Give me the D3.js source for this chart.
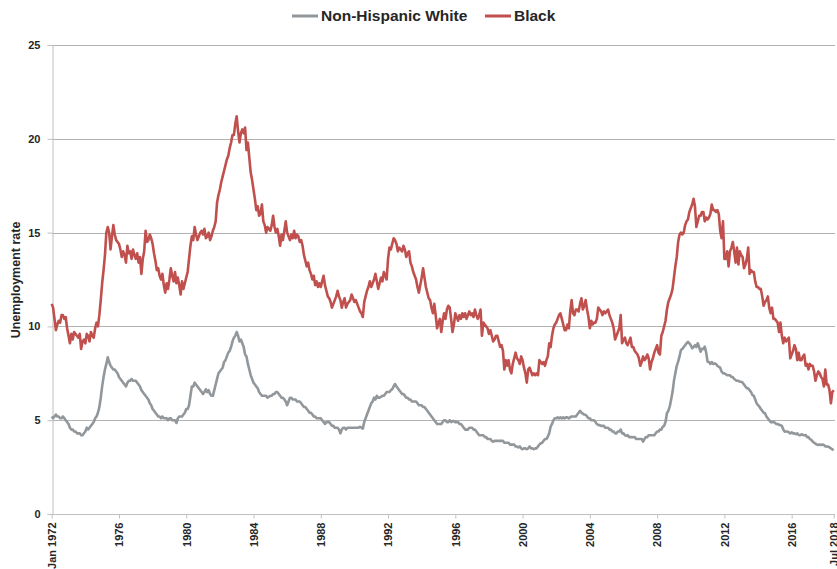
<!DOCTYPE html>
<html>
<head>
<meta charset="utf-8">
<script src="https://cdn.jsdelivr.net/npm/d3@7"></script>
<style>
  body { margin: 0; background: #fff; }
  svg { display: block; font-family: "Liberation Sans", Arial, sans-serif; }
</style>
</head>
<body>
<div id="chart"></div>
<script>
// monthly series, Jan 1972 .. Jul 2018
var startYear = 1972;

var black = [
  11.2, 11.0, 10.4, 9.8, 10.1, 10.3, 10.2, 10.6, 10.6, 10.4, 10.5, 9.9,   // 1972
  9.5, 9.1, 9.6, 9.3, 9.7, 9.6, 9.5, 9.4, 9.6, 8.8, 9.2, 9.3,             // 1973
  9.1, 9.6, 9.5, 9.2, 9.7, 9.5, 9.4, 9.9, 10.2, 10.0, 10.6, 11.4,         // 1974
  12.3, 13.0, 13.8, 15.0, 15.3, 15.0, 14.1, 14.8, 15.4, 14.9, 14.6, 14.5, // 1975
  14.4, 14.1, 13.7, 14.0, 13.8, 13.4, 14.3, 13.9, 14.0, 13.6, 14.1, 13.8, // 1976
  13.6, 13.9, 13.4, 13.7, 12.8, 13.6, 14.0, 15.1, 14.5, 14.6, 14.9, 14.7, // 1977
  14.4, 13.9, 13.5, 13.0, 13.1, 12.7, 12.5, 12.8, 12.2, 11.8, 12.3, 12.0, // 1978
  12.5, 13.1, 12.7, 12.4, 12.9, 12.3, 12.6, 12.2, 11.7, 12.4, 12.0, 12.3, // 1979
  12.6, 12.9, 13.6, 14.3, 14.8, 14.6, 15.3, 14.9, 14.6, 14.8, 15.0, 15.1, // 1980
  14.9, 15.2, 14.7, 14.8, 15.0, 14.6, 14.8, 15.1, 15.3, 15.6, 16.6, 17.0, // 1981
  17.3, 17.7, 18.0, 18.3, 18.6, 18.9, 19.1, 19.5, 19.8, 20.2, 20.2, 20.8, // 1982
  21.2, 20.4, 19.8, 20.3, 20.5, 20.3, 20.6, 19.4, 19.8, 19.0, 18.2, 17.8, // 1983
  17.3, 16.8, 16.2, 16.4, 15.9, 16.0, 16.5, 15.6, 15.4, 15.0, 15.3, 15.2, // 1984
  15.1, 15.4, 15.9, 15.3, 15.0, 15.2, 14.8, 14.3, 14.9, 14.6, 15.1, 15.6, // 1985
  15.0, 14.8, 14.6, 14.9, 14.7, 15.1, 14.7, 14.9, 14.8, 14.5, 14.6, 14.3, // 1986
  13.8, 13.5, 13.2, 13.4, 13.0, 12.8, 12.5, 12.7, 12.2, 12.4, 12.1, 12.3, // 1987
  12.1, 12.4, 12.7, 12.2, 11.9, 11.6, 11.5, 11.3, 11.0, 11.2, 11.4, 11.6, // 1988
  11.9, 11.6, 11.4, 11.0, 11.3, 11.5, 11.0, 11.2, 11.3, 11.4, 11.7, 11.5, // 1989
  11.3, 11.4, 11.2, 11.0, 10.8, 10.7, 10.5, 11.3, 11.6, 11.9, 12.1, 12.4, // 1990
  12.1, 12.3, 12.5, 12.8, 12.4, 12.0, 12.3, 12.6, 12.4, 12.9, 12.7, 12.5, // 1991
  13.6, 14.2, 14.1, 14.4, 14.7, 14.6, 14.4, 14.0, 14.2, 14.1, 14.0, 14.3, // 1992
  14.1, 13.7, 13.9, 14.0, 13.4, 13.2, 12.9, 12.7, 12.5, 12.1, 11.8, 12.2, // 1993
  12.6, 13.1, 12.6, 12.1, 11.8, 11.5, 11.4, 11.0, 10.7, 11.2, 10.6, 9.9,  // 1994
  10.2, 10.4, 9.7, 10.3, 10.7, 10.4, 10.9, 11.1, 11.0, 10.4, 9.7, 10.1,   // 1995
  10.7, 10.5, 10.3, 10.6, 10.4, 10.7, 10.5, 10.7, 10.4, 10.6, 10.8, 10.6, // 1996
  10.7, 10.5, 10.9, 10.6, 10.4, 10.6, 10.9, 9.5, 10.2, 10.1, 10.0, 9.9,   // 1997
  9.6, 9.8, 9.5, 9.2, 9.3, 9.5, 9.5, 9.2, 8.9, 9.0, 8.7, 7.7,             // 1998
  8.2, 7.9, 8.2, 7.7, 7.5, 8.0, 8.3, 8.6, 8.3, 8.2, 8.0, 8.4,             // 1999
  8.2, 7.8, 7.5, 7.0, 7.7, 7.8, 7.6, 7.4, 7.5, 7.4, 7.5, 7.4,             // 2000
  8.2, 8.1, 8.0, 8.1, 7.9, 8.2, 8.4, 9.1, 8.9, 9.5, 9.9, 10.1,            // 2001
  10.2, 10.4, 10.6, 10.7, 10.4, 10.1, 9.8, 9.8, 10.1, 9.9, 10.8, 11.4,    // 2002
  10.7, 10.6, 10.9, 10.9, 10.8, 11.2, 11.5, 10.9, 11.1, 11.4, 10.9, 10.5, // 2003
  9.9, 10.3, 10.1, 10.2, 10.2, 10.4, 11.0, 10.9, 10.8, 10.6, 10.8, 10.7,  // 2004
  10.8, 10.9, 10.6, 10.4, 10.2, 9.9, 9.3, 9.5, 9.7, 9.9, 10.6, 9.1,       // 2005
  9.3, 9.4, 9.1, 9.0, 9.2, 9.4, 8.9, 8.9, 8.7, 8.6, 8.5, 8.3,             // 2006
  7.9, 8.1, 8.4, 8.2, 8.3, 8.5, 8.3, 7.7, 8.1, 8.3, 8.6, 8.8,             // 2007
  9.0, 8.6, 8.5, 9.5, 9.7, 10.0, 10.3, 10.9, 11.3, 11.5, 11.7, 12.0,      // 2008
  12.6, 13.2, 13.7, 14.5, 14.9, 15.0, 14.9, 15.0, 15.4, 15.6, 15.7, 16.1, // 2009
  16.3, 16.5, 16.8, 16.4, 15.3, 15.6, 15.9, 15.9, 16.1, 16.1, 15.6, 15.8, // 2010
  15.7, 15.8, 16.0, 16.5, 16.2, 16.2, 16.1, 16.2, 16.0, 15.1, 14.7, 15.6, // 2011
  13.6, 13.6, 14.0, 13.2, 14.0, 14.2, 14.5, 14.0, 13.4, 14.2, 13.3, 14.0, // 2012
  13.8, 13.7, 13.1, 13.3, 13.6, 14.2, 12.8, 13.0, 12.9, 12.9, 12.4, 12.1, // 2013
  12.1, 12.0, 12.0, 11.6, 11.1, 11.3, 11.4, 11.6, 11.0, 10.7, 11.0, 10.4, // 2014
  10.4, 10.3, 10.2, 9.7, 10.2, 9.5, 9.1, 9.4, 9.2, 9.3, 9.4, 8.3,         // 2015
  8.5, 8.7, 9.0, 8.8, 8.2, 8.6, 8.2, 8.2, 8.4, 8.5, 7.9, 8.0,             // 2016
  7.7, 8.0, 7.9, 7.9, 7.6, 7.1, 7.4, 7.6, 7.5, 7.3, 7.2, 6.8,             // 2017
  7.7, 6.9, 6.9, 6.6, 5.9, 6.5, 6.6                                       // 2018
];

var white = [
  5.2, 5.1, 5.2, 5.3, 5.2, 5.2, 5.1, 5.1, 5.2, 5.1, 5.0, 4.9,        // 1972
  4.8, 4.6, 4.5, 4.5, 4.4, 4.4, 4.3, 4.3, 4.3, 4.2, 4.2, 4.3,        // 1973
  4.4, 4.6, 4.5, 4.6, 4.7, 4.8, 4.9, 5.1, 5.2, 5.4, 5.7, 6.2,        // 1974
  6.8, 7.3, 7.7, 8.0, 8.35, 8.1, 7.9, 7.8, 7.7, 7.7, 7.6, 7.5,       // 1975
  7.3, 7.2, 7.1, 7.0, 6.9, 6.8, 7.0, 7.1, 7.1, 7.2, 7.1, 7.1,        // 1976
  7.1, 7.0, 6.9, 6.8, 6.6, 6.5, 6.4, 6.3, 6.2, 6.1, 5.9, 5.8,        // 1977
  5.6, 5.5, 5.4, 5.3, 5.2, 5.2, 5.1, 5.2, 5.1, 5.1, 5.1, 5.0,        // 1978
  5.1, 5.1, 5.0, 5.0, 5.0, 4.85, 5.1, 5.2, 5.2, 5.2, 5.3, 5.4,       // 1979
  5.6, 5.6, 5.8, 6.3, 6.8, 6.8, 7.0, 6.9, 6.8, 6.7, 6.6, 6.5,        // 1980
  6.4, 6.5, 6.65, 6.5, 6.6, 6.4, 6.3, 6.3, 6.6, 6.9, 7.2, 7.5,       // 1981
  7.6, 7.7, 7.8, 8.1, 8.2, 8.4, 8.6, 8.7, 8.9, 9.2, 9.4, 9.5,        // 1982
  9.7, 9.5, 9.2, 9.3, 9.1, 8.9, 8.5, 8.4, 8.0, 7.7, 7.4, 7.2,        // 1983
  7.0, 6.9, 6.8, 6.7, 6.5, 6.4, 6.3, 6.3, 6.3, 6.3, 6.2, 6.25,       // 1984
  6.3, 6.3, 6.4, 6.4, 6.5, 6.5, 6.4, 6.3, 6.2, 6.2, 6.1, 6.0,        // 1985
  5.8, 6.0, 6.2, 6.2, 6.1, 6.1, 6.1, 6.0, 6.0, 6.0, 5.9, 5.8,        // 1986
  5.7, 5.7, 5.6, 5.5, 5.4, 5.4, 5.3, 5.2, 5.2, 5.1, 5.1, 5.1,        // 1987
  5.1, 5.0, 4.9, 4.8, 4.9, 4.9, 4.9, 4.8, 4.7, 4.7, 4.6, 4.6,        // 1988
  4.6, 4.5, 4.3, 4.5, 4.6, 4.6, 4.5, 4.6, 4.6, 4.6, 4.6, 4.6,        // 1989
  4.6, 4.6, 4.6, 4.6, 4.65, 4.6, 4.55, 4.9, 5.1, 5.3, 5.5, 5.7,      // 1990
  5.9, 6.0, 6.2, 6.1, 6.3, 6.2, 6.2, 6.25, 6.3, 6.3, 6.4, 6.5,       // 1991
  6.5, 6.5, 6.6, 6.65, 6.8, 6.93, 6.8, 6.7, 6.6, 6.5, 6.4, 6.4,      // 1992
  6.3, 6.2, 6.2, 6.1, 6.1, 6.0, 6.0, 6.0, 6.0, 5.9, 5.8, 5.8,        // 1993
  5.8, 5.7, 5.7, 5.6, 5.5, 5.4, 5.3, 5.2, 5.1, 5.0, 4.9, 4.8,        // 1994
  4.8, 4.8, 4.8, 4.9, 5.0, 5.0, 4.9, 4.9, 5.0, 4.9, 4.95, 4.95,      // 1995
  4.9, 4.9, 4.9, 4.8, 4.8, 4.7, 4.6, 4.5, 4.5, 4.5, 4.6, 4.6,        // 1996
  4.6, 4.5, 4.5, 4.4, 4.3, 4.2, 4.2, 4.2, 4.2, 4.1, 4.1, 4.0,        // 1997
  4.0, 4.0, 3.9, 3.85, 3.9, 3.9, 3.9, 3.9, 3.9, 3.9, 3.9, 3.8,       // 1998
  3.8, 3.8, 3.8, 3.7, 3.7, 3.7, 3.7, 3.6, 3.6, 3.55, 3.6, 3.5,       // 1999
  3.45, 3.5, 3.5, 3.45, 3.5, 3.6, 3.5, 3.5, 3.45, 3.5, 3.5, 3.6,     // 2000
  3.7, 3.77, 3.8, 3.9, 4.0, 4.0, 4.12, 4.3, 4.65, 4.8, 5.0, 5.1,     // 2001
  5.1, 5.15, 5.1, 5.15, 5.1, 5.15, 5.1, 5.15, 5.15, 5.1, 5.15, 5.2,  // 2002
  5.2, 5.2, 5.2, 5.3, 5.4, 5.5, 5.4, 5.35, 5.3, 5.28, 5.2, 5.1,      // 2003
  5.1, 5.0, 5.0, 5.0, 4.9, 4.8, 4.74, 4.74, 4.7, 4.7, 4.7, 4.6,      // 2004
  4.6, 4.6, 4.5, 4.5, 4.4, 4.4, 4.3, 4.3, 4.4, 4.4, 4.5, 4.3,        // 2005
  4.3, 4.2, 4.16, 4.2, 4.1, 4.1, 4.1, 4.09, 4.1, 4.0, 4.0, 4.0,      // 2006
  4.0, 4.0, 3.86, 4.0, 4.1, 4.1, 4.2, 4.2, 4.2, 4.2, 4.2, 4.3,       // 2007
  4.4, 4.4, 4.5, 4.5, 4.65, 4.7, 4.9, 5.37, 5.5, 5.72, 6.1, 6.5,     // 2008
  7.1, 7.5, 7.9, 8.12, 8.4, 8.74, 8.8, 8.9, 9.0, 9.1, 9.18, 9.1,     // 2009
  9.0, 8.83, 8.9, 9.0, 8.9, 9.1, 8.9, 8.65, 8.8, 8.8, 8.92, 8.6,     // 2010
  8.12, 8.1, 8.0, 8.1, 8.0, 8.03, 8.0, 7.9, 7.85, 7.8, 7.6, 7.5,     // 2011
  7.5, 7.45, 7.4, 7.4, 7.4, 7.3, 7.3, 7.2, 7.14, 7.1, 7.1, 7.05,     // 2012
  7.05, 7.0, 6.9, 6.8, 6.7, 6.7, 6.6, 6.5, 6.34, 6.3, 6.1, 5.9,      // 2013
  5.8, 5.72, 5.6, 5.5, 5.4, 5.37, 5.2, 5.1, 5.0, 4.9, 4.9, 4.9,      // 2014
  4.87, 4.8, 4.8, 4.75, 4.74, 4.7, 4.5, 4.39, 4.4, 4.4, 4.35, 4.3,   // 2015
  4.35, 4.3, 4.3, 4.25, 4.3, 4.21, 4.2, 4.25, 4.21, 4.2, 4.21, 4.1,  // 2016
  4.1, 4.0, 3.95, 3.86, 3.8, 3.75, 3.7, 3.68, 3.7, 3.68, 3.7, 3.68,  // 2017
  3.6, 3.6, 3.59, 3.55, 3.5, 3.45, 3.41                              // 2018
];

var seriesNames = ["Non-Hispanic White", "Black"];
var seriesColors = ["#92979b", "#c0504d"];
var yTicks = [0, 5, 10, 15, 20, 25];
var xTickYears = [1972, 1976, 1980, 1984, 1988, 1992, 1996, 2000, 2004, 2008, 2012, 2016];
var xTickLabels = ["Jan 1972", "1976", "1980", "1984", "1988", "1992", "1996", "2000", "2004", "2008", "2012", "2016", "Jul 2018"];

var W = 837, H = 569;
var nMonths = black.length;

var svg = d3.select("#chart").append("svg")
    .attr("width", W)
    .attr("height", H);

var x = d3.scaleLinear()
    .domain([0, nMonths - 1])
    .range([51.7, 833.7]);

var y = d3.scaleLinear()
    .domain([0, 25])
    .range([514, 45]);

// gridlines
svg.append("g").selectAll("line")
    .data(yTicks.slice(1))
    .enter().append("line")
    .attr("x1", 52).attr("x2", 835)
    .attr("y1", function (d) { return Math.round(y(d)) + 0.5; })
    .attr("y2", function (d) { return Math.round(y(d)) + 0.5; })
    .attr("stroke", "#b3b3b3")
    .attr("stroke-width", 1);

// y axis
var yAxis = svg.append("g")
    .attr("transform", "translate(52.5,0)")
    .call(d3.axisLeft(y).tickValues(yTicks).tickSize(5).tickPadding(7));
yAxis.select(".domain").attr("stroke", "#c0c0c0");
yAxis.selectAll(".tick line").attr("stroke", "#c0c0c0");
yAxis.selectAll(".tick text")
    .attr("fill", "#262626")
    .style("font-size", "11px")
    .style("font-weight", "bold");

// x axis
var tickIdx = xTickYears.map(function (yr) { return (yr - startYear) * 12; }).concat([nMonths - 1]);
var xAxis = svg.append("g")
    .attr("transform", "translate(0," + (Math.round(y(0)) + 0.5) + ")")
    .call(d3.axisBottom(x).tickValues(tickIdx).tickSize(4).tickSizeOuter(0)
        .tickFormat(function (d, i) { return xTickLabels[i]; }));
xAxis.select(".domain").attr("stroke", "#c0c0c0").attr("d", "M52,0H835");
xAxis.selectAll(".tick line").attr("stroke", "#c0c0c0");
xAxis.selectAll(".tick text")
    .attr("fill", "#262626")
    .style("font-size", "11px")
    .style("font-weight", "bold")
    .attr("text-anchor", "end")
    .attr("transform", "rotate(-90)")
    .attr("x", -8)
    .attr("y", 0)
    .attr("dy", "0.35em");

// axis title
svg.append("text")
    .attr("transform", "translate(20,280) rotate(-90)")
    .attr("text-anchor", "middle")
    .attr("fill", "#262626")
    .style("font-size", "12.5px")
    .style("font-weight", "bold")
    .text("Unemployment rate");

// lines
var line = d3.line()
    .x(function (d, i) { return x(i); })
    .y(function (d) { return y(d); });

var data = [white, black];
svg.append("g").selectAll("path")
    .data(data)
    .enter().append("path")
    .attr("d", line)
    .attr("fill", "none")
    .attr("stroke", function (d, i) { return seriesColors[i]; })
    .attr("stroke-width", 2.6)
    .attr("stroke-linejoin", "round");

// legend
var legendX = [292, 485];
var lg = svg.append("g").selectAll("g")
    .data(seriesNames)
    .enter().append("g")
    .attr("transform", function (d, i) { return "translate(" + legendX[i] + ",16)"; });
lg.append("line")
    .attr("x1", 0).attr("x2", 26)
    .attr("stroke", function (d, i) { return seriesColors[i]; })
    .attr("stroke-width", 3);
lg.append("text")
    .attr("x", 29)
    .attr("dy", "0.35em")
    .attr("fill", "#262626")
    .style("font-size", "15.5px")
    .style("font-weight", "bold")
    .text(function (d) { return d; });
</script>
</body>
</html>
